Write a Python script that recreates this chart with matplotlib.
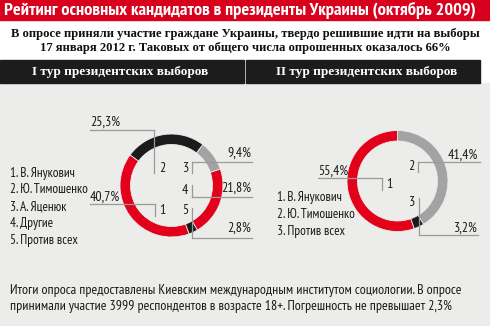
import matplotlib

matplotlib.use("Agg")
import matplotlib.pyplot as plt
from matplotlib.patches import Rectangle

W, H = 490, 326

TITLE = "Рейтинг основных кандидатов в президенты Украины (октябрь 2009)"
SUBTITLE = ("В опросе приняли участие граждане Украины, твердо решившие идти на выборы\n"
            "17 января 2012 г. Таковых от общего числа опрошенных оказалось 66%")
HEADERS = ["I тур президентских выборов", "II тур президентских выборов"]
FOOTER = ("Итоги опроса предоставлены Киевским международным институтом социологии. В опросе\n"
          "принимали участие 3999 респондентов в возрасте 18+. Погрешность не превышает 2,3%")

round1_labels = ["В. Янукович", "Ю. Тимошенко", "А. Яценюк", "Другие", "Против всех"]
round1_values = [40.7, 25.3, 9.4, 21.8, 2.8]
round2_labels = ["В. Янукович", "Ю. Тимошенко", "Против всех"]
round2_values = [55.4, 41.4, 3.2]

RED = "#e2001a"
BLACK = "#1b1b1b"
GREY = "#a3a3a3"
BG = "#ececea"
LINE = "#9a9a9a"
round1_colors = [RED, BLACK, GREY, RED, BLACK]
round2_colors = [RED, GREY, BLACK]

NARROW = ["PT Sans Narrow", "Roboto Condensed", "DejaVu Sans"]
SERIF = ["Liberation Serif", "DejaVu Serif"]

# callouts: (text_x, text_y, ha, line_y, line_x0, line_x1, vert_x, vert_y, num_x, num_y, num_ha)
round1_callouts = [
    (90, 197, "left", 204, 90, 155, 155, 216, 159, 211, "left"),
    (90, 122, "left", 130, 90, 154, 154, 173, 159, 168, "left"),
    (251, 153, "right", 162, 192, 252, 192, 173, 188, 168, "right"),
    (251, 188, "right", 197, 192, 252, 192, 185, 188, 191, "right"),
    (251, 228, "right", 238, 192, 252, 192, 208, 188, 210, "right"),
]
round2_callouts = [
    (318, 171, "left", 178, 318, 382, 382, 190, 386, 185, "left"),
    (478, 155, "right", 162, 418, 480, 418, 172, 414, 167, "right"),
    (477, 228, "right", 235, 419, 478, 419, 198, 414, 203, "right"),
]


def Y(y):
    return H - y


def fmt(v):
    return f"{v:.1f}".replace(".", ",") + "%"


def draw_donut(ax, values, colors, center, radius, width, start):
    ax.pie(values, colors=colors, startangle=start, counterclock=False,
           center=(center[0], Y(center[1])), radius=radius, frame=True,
           wedgeprops=dict(width=width, edgecolor=BG, linewidth=0.6))


def draw_callouts(ax, values, callouts):
    for v, (tx, ty, ha, ly, lx0, lx1, vx, vy, nx, ny, nha) in zip(values, callouts):
        ax.text(tx, Y(ty), fmt(v), ha=ha, va="center", fontsize=10,
                family=NARROW, color="#1a1a1a")
        ax.plot([lx0, lx1], [Y(ly), Y(ly)], color=LINE, lw=0.9)
        ax.plot([vx, vx], [Y(ly), Y(vy)], color=LINE, lw=0.9)
    for i, (tx, ty, ha, ly, lx0, lx1, vx, vy, nx, ny, nha) in enumerate(callouts):
        ax.text(nx, Y(ny), str(i + 1), ha=nha, va="center", fontsize=10,
                family=NARROW, color="#1a1a1a")


def draw_legend(ax, labels, x, y0, step):
    for i, lab in enumerate(labels):
        ax.text(x, Y(y0 + i * step), f"{i + 1}. {lab}", ha="left", va="center",
                fontsize=9.5, family=NARROW, color="#1a1a1a")


def main():
    fig = plt.figure(figsize=(W / 100, H / 100), dpi=100)
    ax = fig.add_axes([0, 0, 1, 1])

    ax.add_patch(Rectangle((0, 0), W, H, color="white", zorder=0))
    ax.add_patch(Rectangle((0, 0), W, Y(83), color=BG, zorder=0))
    ax.add_patch(Rectangle((0, Y(20)), W, 20, color="#d8001c", zorder=0))
    ax.add_patch(Rectangle((0, Y(82.5)), 244, 22.5, color="#1c1c1c", zorder=0))
    ax.add_patch(Rectangle((246, Y(82.5)), 234, 22.5, color="#1c1c1c", zorder=0))

    ax.text(240, Y(10.5), TITLE, ha="center", va="center", color="white",
            fontsize=13.2, fontweight="bold", family=NARROW)
    ax.text(245, Y(41), SUBTITLE, ha="center", va="center", color="#111111",
            fontsize=9.1, fontweight="bold", family=SERIF, linespacing=1.12)
    ax.text(120, Y(71.5), HEADERS[0], ha="center", va="center", color="white",
            fontsize=9.5, fontweight="bold", family=SERIF)
    ax.text(367, Y(71.5), HEADERS[1], ha="center", va="center", color="white",
            fontsize=9.5, fontweight="bold", family=SERIF)

    draw_donut(ax, round1_values, round1_colors, (171.5, 185.5), 51.5, 10.5, 290)
    draw_donut(ax, round2_values, round2_colors, (397.5, 181), 50.5, 10.5,
               90 + round2_values[0] * 3.6)
    draw_callouts(ax, round1_values, round1_callouts)
    draw_callouts(ax, round2_values, round2_callouts)

    draw_legend(ax, round1_labels, 10, 173, 16.8)
    draw_legend(ax, round2_labels, 277, 198, 16.8)

    ax.text(10, Y(298.5), FOOTER, ha="left", va="center", color="#1a1a1a",
            fontsize=10, family=NARROW, linespacing=1.25)

    ax.set_xlim(0, W)
    ax.set_ylim(0, H)
    ax.set_aspect("auto")
    ax.axis("off")
    fig.savefig("out.png", dpi=100)


if __name__ == "__main__":
    main()
